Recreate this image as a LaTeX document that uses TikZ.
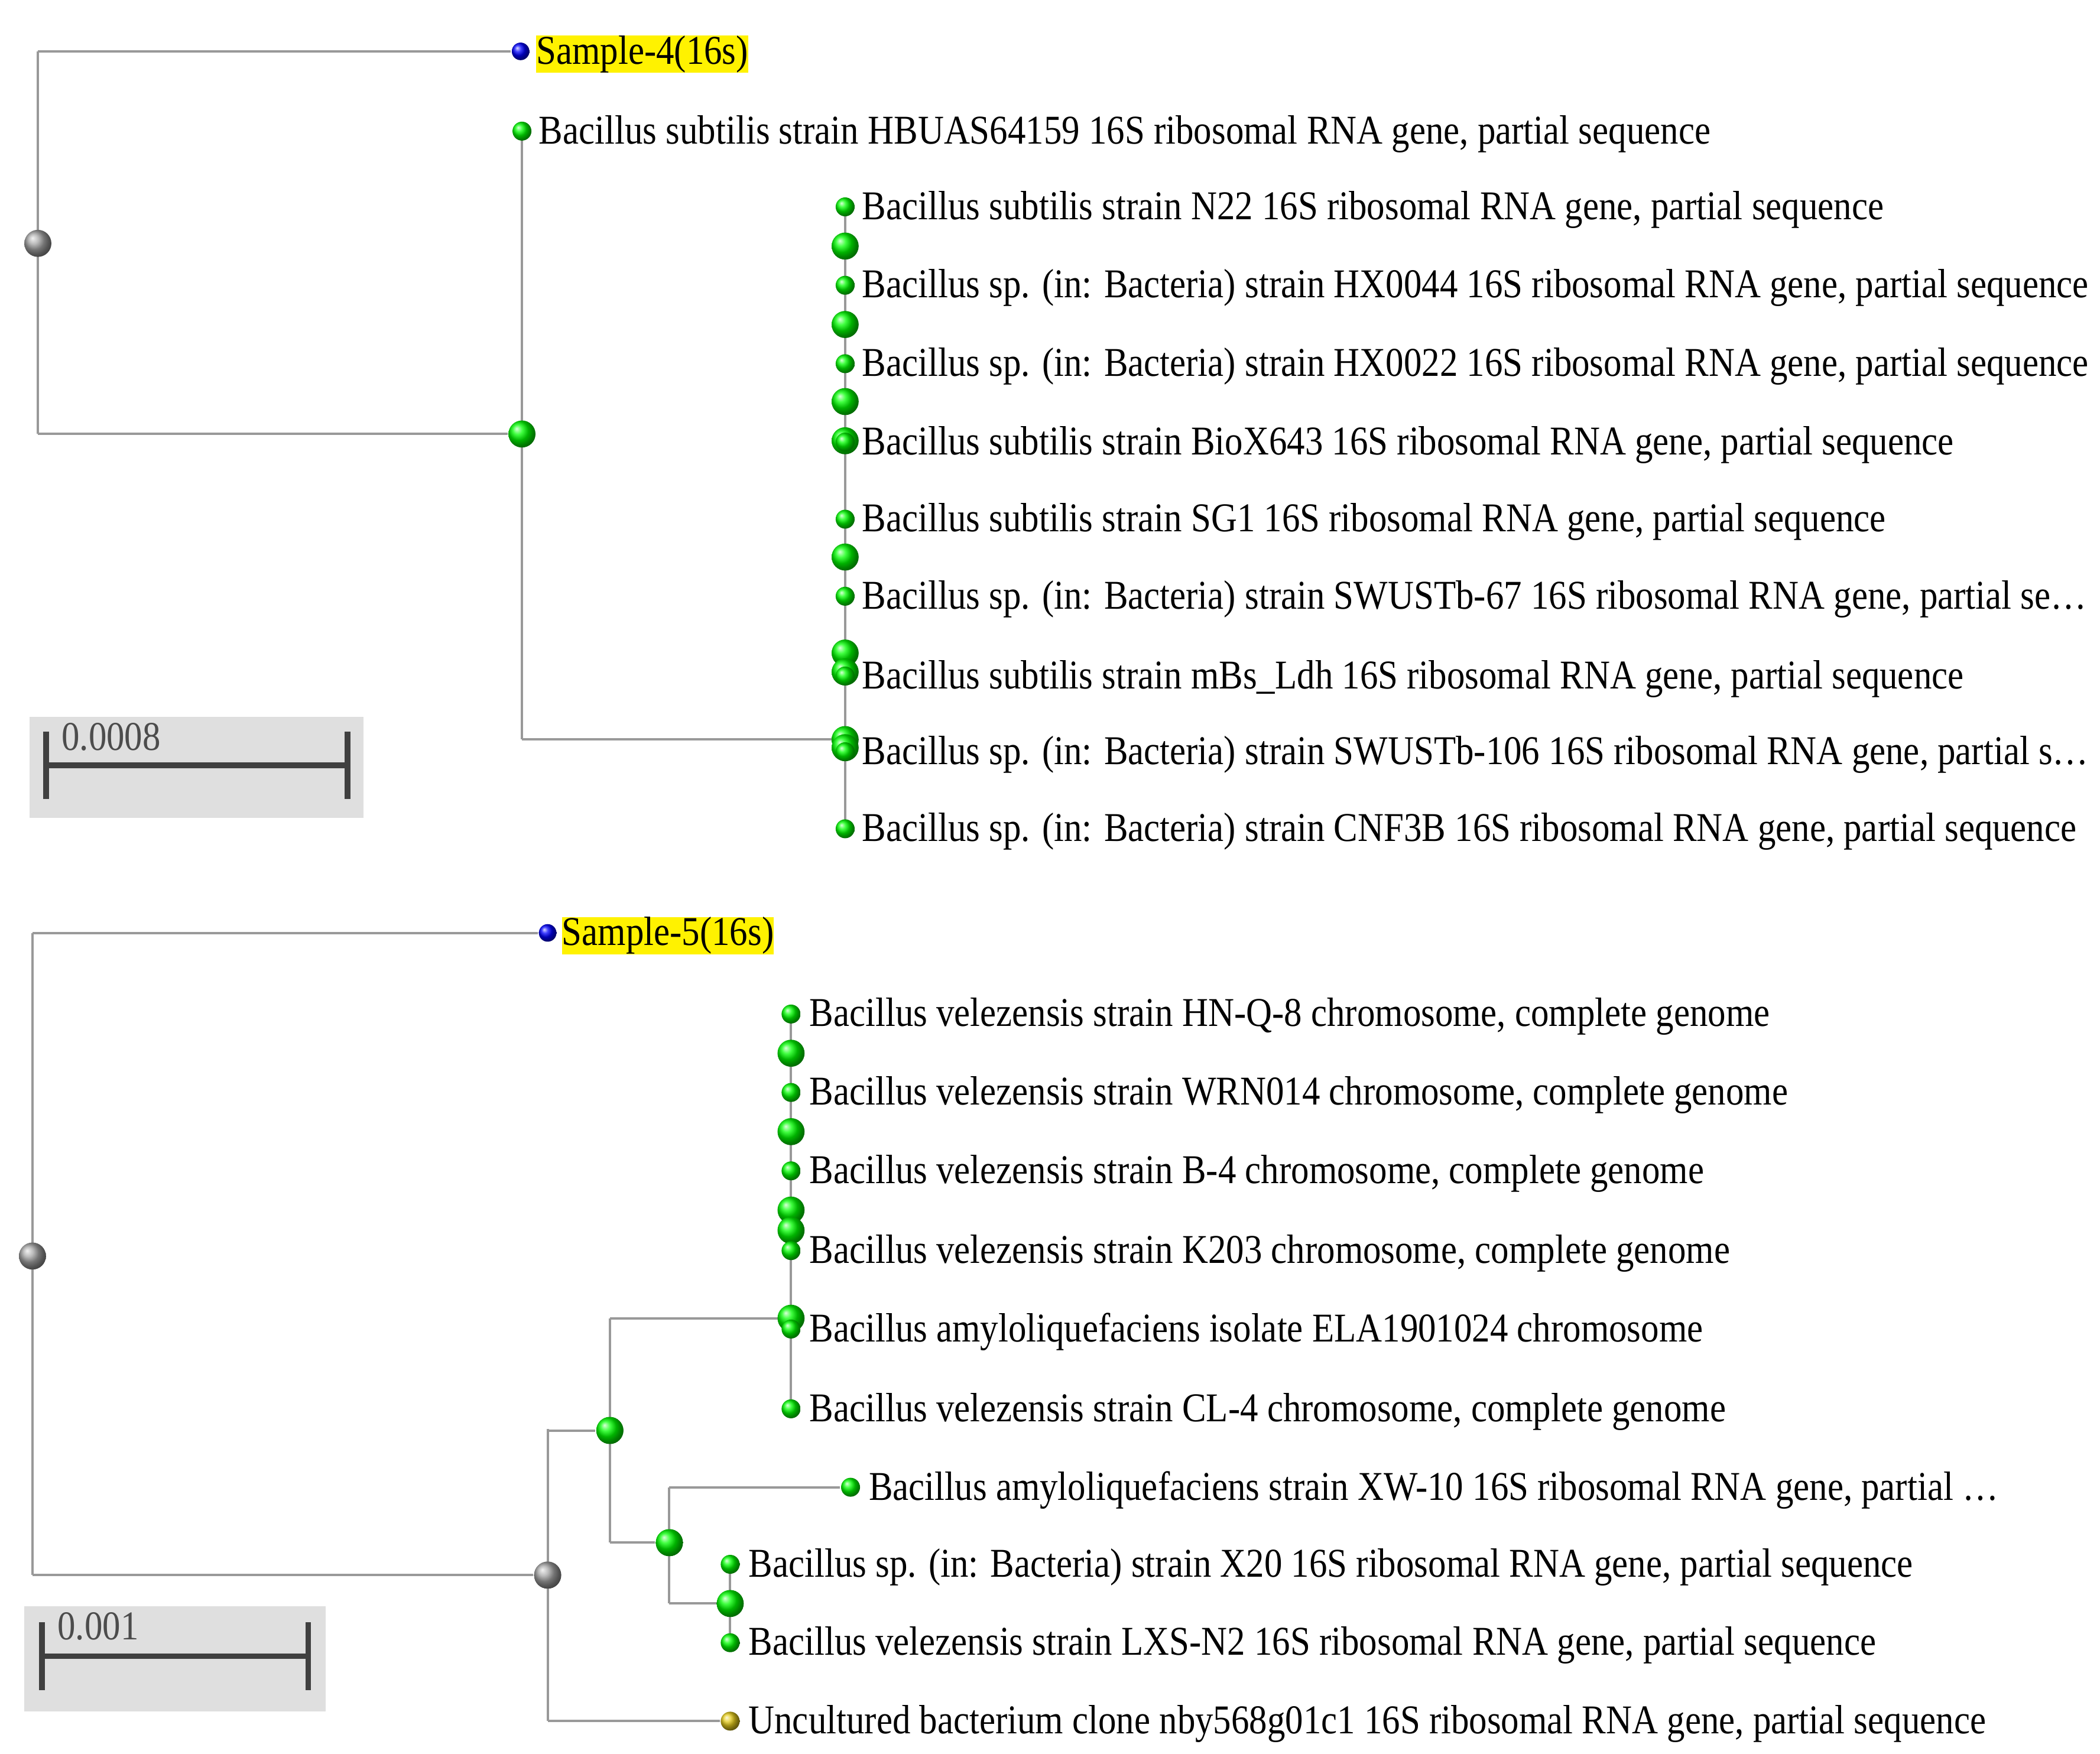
\documentclass[tikz,border=0pt]{standalone}
\usepackage{fontspec}
\setmainfont{Liberation Serif}
\begin{document}
\begin{tikzpicture}[x=0.01cm,y=-0.01cm,
 br/.style={draw=gray!80,line width=0.5pt},
 gl/.style={circle,inner sep=0pt,minimum size=0.14cm,ball color=green},
 big/.style={circle,inner sep=0pt,minimum size=0.2cm,ball color=green},
 gr/.style={circle,inner sep=0pt,minimum size=0.2cm,ball color=gray!70},
 bl/.style={circle,inner sep=0pt,minimum size=0.13cm,ball color=blue},
 yl/.style={circle,inner sep=0pt,minimum size=0.14cm,ball color=yellow!60!brown},
 lab/.style={anchor=west,inner sep=0pt,xscale=0.88,font=\fontsize{8.6}{10}\selectfont},
 sbox/.style={fill=gray!25,draw=none},
 sc/.style={draw=black!75,line width=1.2pt}]
\useasboundingbox (0,0) rectangle (1553,1297);
\clip (0,0) rectangle (1545,1297);
% ---------- tree 1
\coordinate (a0) at (28,38); \coordinate (a1) at (28,321);
\coordinate (b0) at (386,97); \coordinate (b1) at (386,547);
\coordinate (c0) at (625,153); \coordinate (c1) at (625,613);
\draw[br] (a0) -- (a1); \draw[br] (b0) -- (b1); \draw[br] (c0) -- (c1);
\node[bl] (s4) at (385,38) {};
\draw[br] (a0) -- (s4);
\node[big] (n1) at (386,321) {};
\draw[br] (a1) -- (n1);
\draw[br] (b1) -- (c1 |- b1);
\node[gr] (r1) at (28,180) {};
\node[gl] (l0) at (386,97) {};
\node[lab,fill=yellow] at (396,40) {Sample-4(16s)};
\node[lab] at (398,99) {Bacillus subtilis strain HBUAS64159 16S ribosomal RNA gene, partial sequence};
\foreach \y in {182,240,297,326,412,483,497,547,553} \node[big] at (625,\y) {};
\foreach \y/\t in {153/{Bacillus subtilis strain N22 16S ribosomal RNA gene, partial sequence},
 211/{Bacillus sp. (in: Bacteria) strain HX0044 16S ribosomal RNA gene, partial sequence},
 269/{Bacillus sp. (in: Bacteria) strain HX0022 16S ribosomal RNA gene, partial sequence},
 327/{Bacillus subtilis strain BioX643 16S ribosomal RNA gene, partial sequence},
 384/{Bacillus subtilis strain SG1 16S ribosomal RNA gene, partial sequence},
 441/{Bacillus sp. (in: Bacteria) strain SWUSTb-67 16S ribosomal RNA gene, partial se\ldots},
 500/{Bacillus subtilis strain mBs\_Ldh 16S ribosomal RNA gene, partial sequence},
 556/{Bacillus sp. (in: Bacteria) strain SWUSTb-106 16S ribosomal RNA gene, partial s\ldots},
 613/{Bacillus sp. (in: Bacteria) strain CNF3B 16S ribosomal RNA gene, partial sequence}}
 {\node[gl] at (625,\y) {}; \node[lab] at (637,\y+2) {\t};}
% scale bar 1
\fill[sbox] (22,530) rectangle (269,605);
\draw[sc] (34,566) -- (257,566); \draw[sc] (34,541) -- (34,591); \draw[sc] (257,541) -- (257,591);
\node[lab,text=gray!60!black] at (45,545) {0.0008};
% ---------- tree 2
\coordinate (d0) at (24,690); \coordinate (d1) at (24,1165);
\draw[br] (d0) -- (d1);
\node[bl] (s5) at (405,690) {};
\draw[br] (d0) -- (s5);
\node[gr] (n5) at (405,1165) {};
\draw[br] (d1) -- (n5);
\draw[br] (405,1057) -- (405,1273);
\node[big] (n6) at (451,1058) {};
\draw[br] (405,1058) -- (n6);
\draw[br] (451,975) -- (451,1141);
\draw[br] (451,975) -- (585,975);
\draw[br] (585,750) -- (585,1042);
\node[big] (n7) at (495,1141) {};
\draw[br] (451,1141) -- (n7);
\draw[br] (495,1100) -- (495,1186);
\node[gl] (x10) at (629,1100) {};
\draw[br] (495,1100) -- (x10);
\draw[br] (495,1186) -- (540,1186);
\draw[br] (540,1157) -- (540,1215);
\node[yl] (unc) at (540,1273) {};
\draw[br] (405,1273) -- (unc);
\node[gr] at (405,1165) {};
\node[gr] (r2) at (24,929) {};
\node[big] at (451,1058) {};
\node[big] at (495,1141) {};
\node[big] at (540,1186) {};
\node[lab,fill=yellow] at (415,692) {Sample-5(16s)};
\foreach \y in {779,837,895,910,975} \node[big] at (585,\y) {};
\foreach \y/\t in {750/{Bacillus velezensis strain HN-Q-8 chromosome, complete genome},
 808/{Bacillus velezensis strain WRN014 chromosome, complete genome},
 866/{Bacillus velezensis strain B-4 chromosome, complete genome},
 925/{Bacillus velezensis strain K203 chromosome, complete genome},
 983/{Bacillus amyloliquefaciens isolate ELA1901024 chromosome},
 1042/{Bacillus velezensis strain CL-4 chromosome, complete genome}}
 {\node[gl] at (585,\y) {}; \node[lab] at (598,\y+2) {\t};}
\node[lab] at (642,1102) {Bacillus amyloliquefaciens strain XW-10 16S ribosomal RNA gene, partial \ldots};
\node[gl] at (540,1157) {}; \node[gl] at (540,1215) {};
\node[lab] at (553,1159) {Bacillus sp. (in: Bacteria) strain X20 16S ribosomal RNA gene, partial sequence};
\node[lab] at (553,1217) {Bacillus velezensis strain LXS-N2 16S ribosomal RNA gene, partial sequence};
\node[lab] at (553,1275) {Uncultured bacterium clone nby568g01c1 16S ribosomal RNA gene, partial sequence};
% scale bar 2
\fill[sbox] (18,1188) rectangle (241,1266);
\draw[sc] (31,1225) -- (228,1225); \draw[sc] (31,1200) -- (31,1250); \draw[sc] (228,1200) -- (228,1250);
\node[lab,text=gray!60!black] at (42,1203) {0.001};
\end{tikzpicture}
\end{document}
